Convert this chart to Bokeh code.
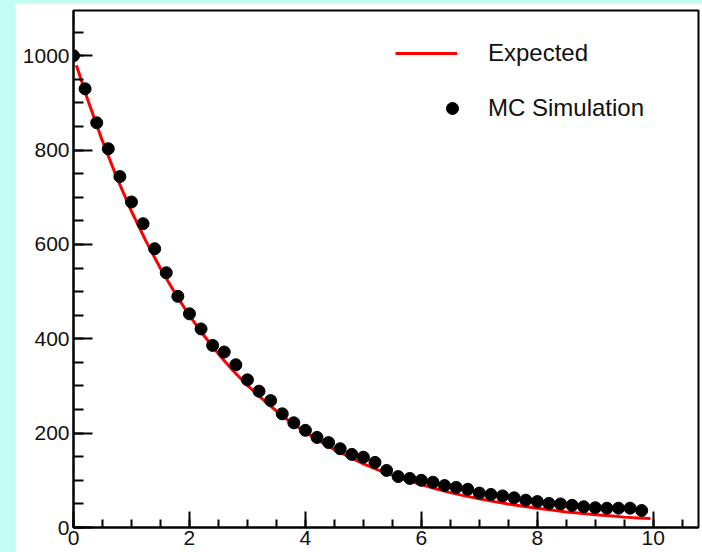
from bokeh.plotting import figure
from bokeh.models import Range1d, SingleIntervalTicker, Legend, LegendItem
from bokeh.layouts import column
from bokeh.embed import file_html
from bokeh.resources import INLINE

# MC simulation points
mc_x = [0.0, 0.2, 0.4, 0.6, 0.8, 1.0, 1.2, 1.4, 1.6, 1.8,
        2.0, 2.2, 2.4, 2.6, 2.8, 3.0, 3.2, 3.4, 3.6, 3.8,
        4.0, 4.2, 4.4, 4.6, 4.8, 5.0, 5.2, 5.4, 5.6, 5.8,
        6.0, 6.2, 6.4, 6.6, 6.8, 7.0, 7.2, 7.4, 7.6, 7.8,
        8.0, 8.2, 8.4, 8.6, 8.8, 9.0, 9.2, 9.4, 9.6, 9.8]
mc_y = [1000, 930, 858, 803, 744, 690, 644, 591, 540, 490,
        453, 421, 386, 372, 345, 313, 289, 269, 241, 222,
        206, 191, 180, 167, 155, 149, 138, 121, 108, 104,
        100, 96, 89, 85, 81, 73, 70, 67, 63, 58,
        55, 51, 50, 47, 44, 42, 41, 41, 41, 36]

# Expected curve
exp_x = [0.05, 0.25, 0.5, 0.75, 1.0, 1.25, 1.5, 1.75, 2.0, 2.25,
         2.5, 2.75, 3.0, 3.25, 3.5, 3.75, 4.0, 4.25, 4.5, 4.75,
         5.0, 5.25, 5.5, 5.75, 6.0, 6.25, 6.5, 6.75, 7.0, 7.25,
         7.5, 7.75, 8.0, 8.25, 8.5, 8.75, 9.0, 9.25, 9.5, 9.75, 9.95]
exp_y = [980, 905, 819, 741, 670, 607, 549, 497, 449, 407,
         368, 333, 301, 273, 247, 223, 202, 183, 165, 150,
         135, 122, 111, 100, 91, 82, 74, 67, 61, 55,
         50, 45, 41, 37, 33, 30, 27, 25, 22, 20, 19]

series_labels = ["Expected", "MC Simulation"]

CYAN = "#c1fdf0"
FONT = "Liberation Sans"

p = figure(width=687, height=549,
           x_range=Range1d(0, 10.78), y_range=Range1d(0, 1096),
           output_backend="svg", toolbar_location=None, tools="",
           min_border_left=58, min_border_right=4,
           min_border_top=7, min_border_bottom=25,
           background_fill_color="white", border_fill_color="white",
           outline_line_color="black", outline_line_width=2)
p.margin = (3, 0, 0, 15)
p.grid.visible = False

p.xaxis.ticker = SingleIntervalTicker(interval=2, num_minor_ticks=4)
p.yaxis.ticker = SingleIntervalTicker(interval=200, num_minor_ticks=4)

for ax in (p.xaxis[0], p.yaxis[0]):
    ax.axis_line_color = "black"
    ax.axis_line_width = 2
    ax.major_tick_out = 0
    ax.minor_tick_out = 0
    ax.major_tick_line_color = "black"
    ax.minor_tick_line_color = "black"
    ax.major_tick_line_width = 2
    ax.minor_tick_line_width = 2
    ax.major_label_text_font = FONT
    ax.major_label_text_font_size = "21px"
    ax.major_label_text_color = "#111111"

p.yaxis.major_tick_in = 19
p.yaxis.minor_tick_in = 10
p.xaxis.major_tick_in = 16
p.xaxis.minor_tick_in = 8
p.yaxis.major_label_standoff = 4
p.xaxis.major_label_standoff = 3

r_line = p.line(exp_x, exp_y, line_color="#ff0000", line_width=3)
r_pts = p.scatter(mc_x, mc_y, marker="circle", size=12,
                  fill_color="black", line_color="black")

common = dict(padding=0, margin=0, spacing=0,
              border_line_alpha=0, background_fill_alpha=0,
              label_text_font=FONT, label_text_font_size="24px",
              label_text_color="#111111")

leg1 = Legend(items=[LegendItem(label=series_labels[0], renderers=[r_line])],
              location=(322, 459), glyph_width=62, glyph_height=30,
              label_height=30, label_standoff=31, **common)
leg2 = Legend(items=[LegendItem(label=series_labels[1], renderers=[r_pts])],
              location=(364, 404), glyph_width=30, glyph_height=30,
              label_height=30, label_standoff=21, **common)
p.add_layout(leg1)
p.add_layout(leg2)

layout = column(p, styles={"background-color": CYAN})

open("out.html", "w").write(file_html(layout, INLINE))
